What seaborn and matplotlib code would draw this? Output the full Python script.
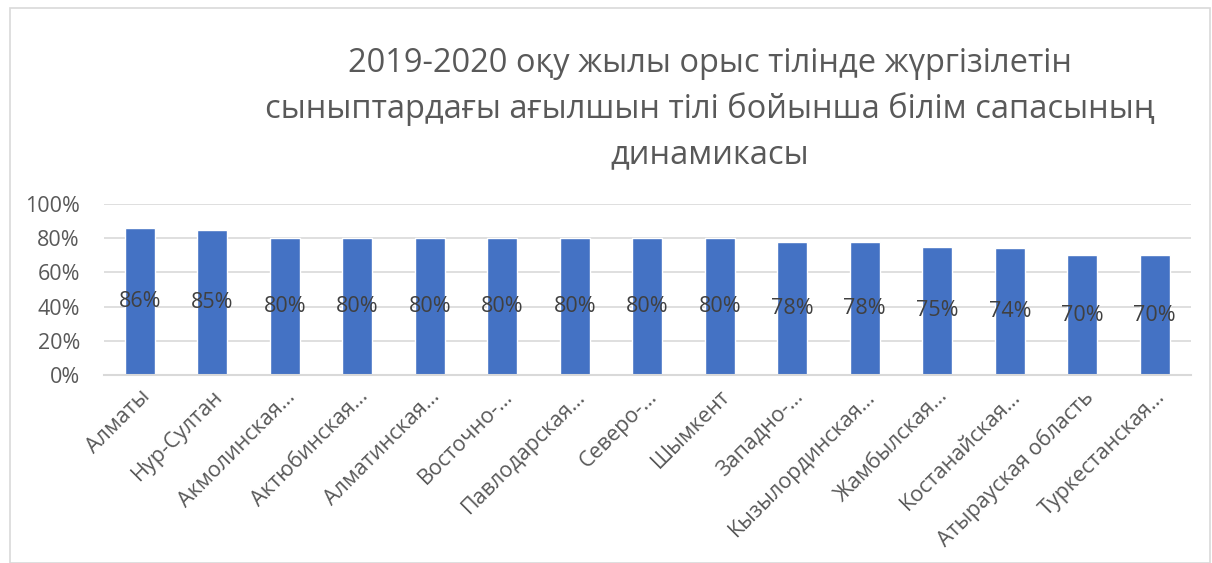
import seaborn as sns
import pandas as pd
import numpy as np
import matplotlib.pyplot as plt
from matplotlib.patches import Rectangle
from matplotlib.ticker import PercentFormatter

regions = ['Алматы', 'Нур-Султан', 'Акмолинская…', 'Актюбинская…', 'Алматинская…',
           'Восточно-…', 'Павлодарская…', 'Северо-…', 'Шымкент', 'Западно-…',
           'Кызылординская…', 'Жамбылская…', 'Костанайская…', 'Атырауская область',
           'Туркестанская…']
quality = [0.86, 0.85, 0.80, 0.80, 0.80, 0.80, 0.80, 0.80, 0.80, 0.78, 0.78, 0.75, 0.74, 0.70, 0.70]

df = pd.DataFrame({'Регион': regions, 'Качество': quality})

sns.set_style('white')
plt.rcParams['font.family'] = ['Open Sans', 'DejaVu Sans']

fig = plt.figure(figsize=(12.12, 5.63), dpi=100)
ax = fig.add_axes([103.5 / 1212, 1 - 375 / 563, (1191 - 103.5) / 1212, 171 / 563])

sns.barplot(x='Регион', y='Качество', data=df, color='#4472C4', width=0.41,
            saturation=1, ax=ax)

for i, v in enumerate(quality):
    ax.text(i, v / 2, f'{round(v * 100)}%', ha='center', va='center',
            fontsize=15.5, color='#404040')

ax.set_ylim(0, 1.0)
ax.set_yticks(np.arange(0, 1.01, 0.2))
ax.yaxis.set_major_formatter(PercentFormatter(1.0, decimals=0))
ax.grid(axis='y', color='#D9D9D9', linewidth=1.2)
ax.set_axisbelow(True)
for s in ['left', 'right', 'top']:
    ax.spines[s].set_visible(False)
ax.spines['bottom'].set_color('#D9D9D9')
ax.spines['bottom'].set_linewidth(1.5)
ax.tick_params(axis='y', labelsize=15.5, labelcolor='#595959', length=0, pad=17)
ax.tick_params(axis='x', labelsize=15.5, labelcolor='#595959', length=0, pad=8)
plt.setp(ax.get_xticklabels(), rotation=45, ha='right', rotation_mode='anchor')
ax.set_xlabel('')
ax.set_ylabel('')

fig.text(710 / 1212, 1 - 109 / 563,
         '2019-2020 оқу жылы орыс тілінде жүргізілетін\n'
         'сыныптардағы ағылшын тілі бойынша білім сапасының\n'
         'динамикасы',
         ha='center', va='center', fontsize=23.5, color='#595959', linespacing=1.48)

fig.patches.append(Rectangle((10 / 1212, 0), 1200 / 1212, 1 - 8 / 563, transform=fig.transFigure,
                             fill=False, edgecolor='#D9D9D9', linewidth=1.2))

fig.savefig('out.png', dpi=100)
